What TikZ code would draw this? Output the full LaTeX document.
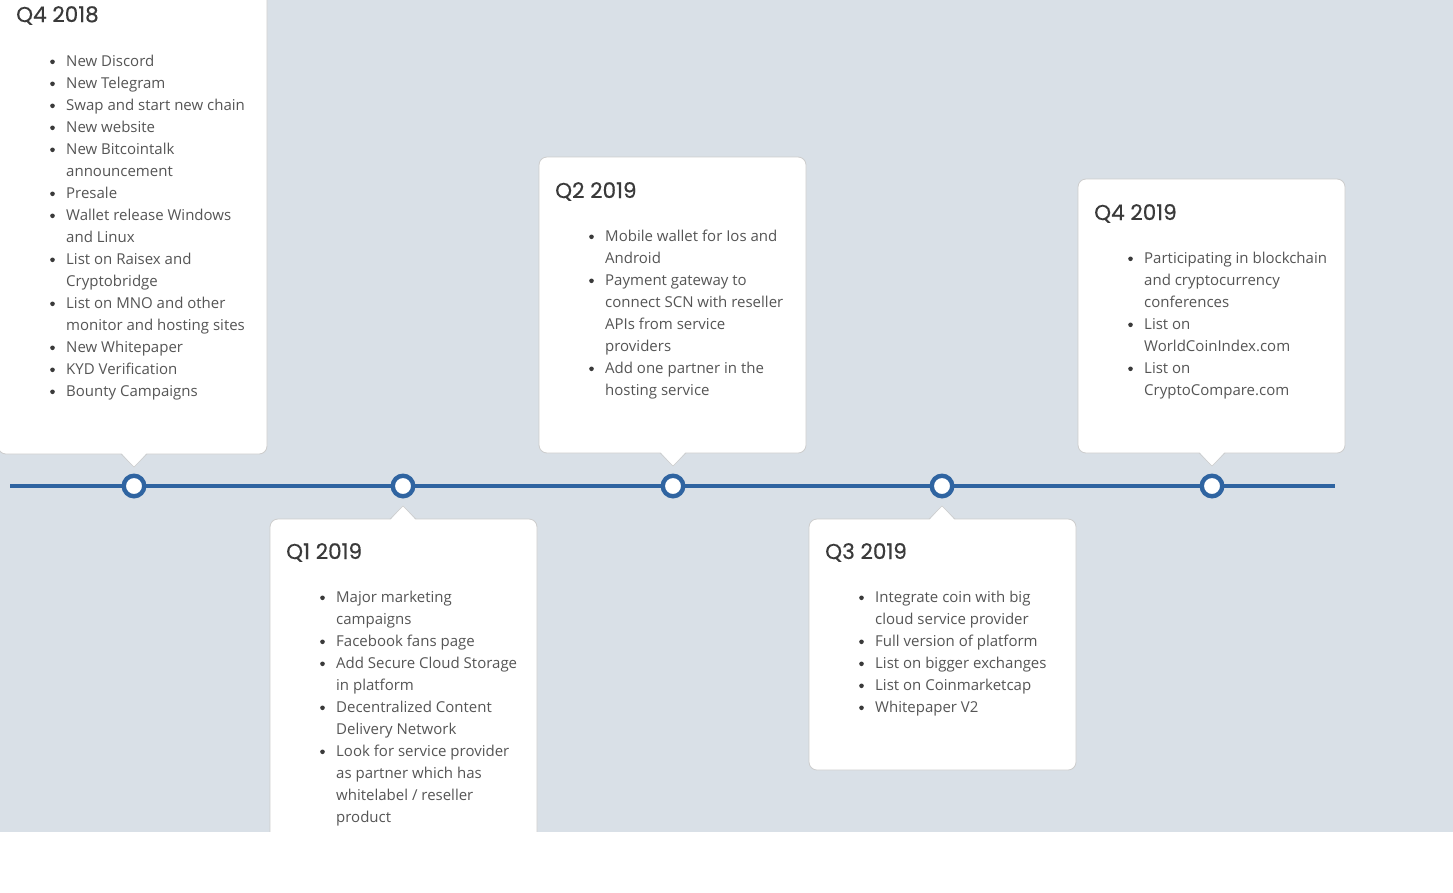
\documentclass[tikz,border=0pt]{standalone}
\usepackage{fontspec}
\setmainfont{Open Sans}
\newfontfamily\titlefont[FakeBold=0.5]{Poppins}
\definecolor{bgc}{HTML}{D9E0E7}
\definecolor{linec}{HTML}{2F64A1}
\definecolor{txtc}{HTML}{555555}
\definecolor{ttlc}{HTML}{3A3A3A}
\definecolor{bordc}{HTML}{CDCDCD}
\tikzset{
  cardbox/.style={fill=white, draw=bordc, line width=0.8pt, rounded corners=8pt},
  tline/.style={draw=linec, line width=4.6pt},
  dot/.style={circle, draw=linec, fill=white, line width=4.4pt, minimum size=20.5pt, inner sep=0pt},
  txt/.style={text=txtc, font=\fontsize{15}{22}\selectfont, inner sep=0pt, anchor=base west},
  ttl/.style={text=ttlc, font=\titlefont\fontsize{21.5}{22}\selectfont, inner sep=0pt, anchor=base west},
  bul/.style={circle, fill=ttlc, inner sep=0pt, minimum size=4.6pt},
}
% #1 name, #2 left x, #3 first line center y, #4 list of flag/text
\newcommand\cardtext[4]{%
  \foreach \b/\t [count=\i] in {#4} {
    \pgfmathsetmacro\yy{#3+(\i-1)*22}
    \node[txt] (#1l\i) at (#2+66, \yy+6.2) {\t};
    \ifnum\b=1 \node[bul] (#1b\i) at (#2+52.5, \yy+1.8) {};\fi
  }%
}
\newcommand\ptrdown[3]{% name, x, bottom y
  \fill[white] (#2-13,#3-1.5) -- (#2,#3+13) -- (#2+13,#3-1.5) -- cycle;
  \draw[draw=bordc, line width=0.6pt] (#2-13,#3) -- (#2,#3+13) -- (#2+13,#3);
  \coordinate (#1) at (#2,#3+13);
}
\newcommand\ptrup[3]{% name, x, top y
  \fill[white] (#2-13,#3+1.5) -- (#2,#3-13) -- (#2+13,#3+1.5) -- cycle;
  \draw[draw=bordc, line width=0.6pt] (#2-13,#3) -- (#2,#3-13) -- (#2+13,#3);
  \coordinate (#1) at (#2,#3-13);
}
\begin{document}
\begin{tikzpicture}[x=1pt, y=-1pt]
\useasboundingbox (0,0) rectangle (1453,892);
\fill[bgc] (0,0) rectangle (1453,832);

% cards
\draw[cardbox] (-2,-30) rectangle (267,454);
\ptrdown{p1}{134}{454}
\draw[cardbox] (270,519) rectangle (537,860);
\ptrup{p2}{403}{519}
\draw[cardbox] (539,157) rectangle (806,453);
\ptrdown{p3}{673}{453}
\draw[cardbox] (809,519) rectangle (1076,770);
\ptrup{p4}{942}{519}
\draw[cardbox] (1078,179) rectangle (1345,453);
\ptrdown{p5}{1212}{453}

\fill[white] (0,832) rectangle (1453,892);

% timeline
\coordinate (ts) at (10,486);
\coordinate (te) at (1335,486);
\draw[tline] (ts) -- (te);
\node[dot] (d1) at (134,486) {};
\node[dot] (d2) at (403,486) {};
\node[dot] (d3) at (673,486) {};
\node[dot] (d4) at (942,486) {};
\node[dot] (d5) at (1212,486) {};

% titles
\node[ttl] (t1) at (16,22) {Q4 2018};
\node[ttl] (t2) at (286,559) {Q1 2019};
\node[ttl] (t3) at (555,198) {Q2 2019};
\node[ttl] (t4) at (825,559) {Q3 2019};
\node[ttl] (t5) at (1094,220) {Q4 2019};

% texts
\cardtext{a}{0}{60}{1/New Discord,1/New Telegram,1/Swap and start new chain,1/New website,1/New Bitcointalk,0/announcement,1/Presale,1/Wallet release Windows,0/and Linux,1/List on Raisex and,0/Cryptobridge,1/List on MNO and other,0/monitor and hosting sites,1/New Whitepaper,1/KYD Verification,1/Bounty Campaigns}
\cardtext{b}{270}{596}{1/Major marketing,0/campaigns,1/Facebook fans page,1/Add Secure Cloud Storage,0/in platform,1/Decentralized Content,0/Delivery Network,1/Look for service provider,0/as partner which has,0/{whitelabel / reseller},0/product}
\cardtext{c}{539}{235}{1/Mobile wallet for Ios and,0/Android,1/Payment gateway to,0/connect SCN with reseller,0/APIs from service,0/providers,1/Add one partner in the,0/hosting service}
\cardtext{d}{809}{596}{1/Integrate coin with big,0/cloud service provider,1/Full version of platform,1/List on bigger exchanges,1/List on Coinmarketcap,1/Whitepaper V2}
\cardtext{e}{1078}{257}{1/Participating in blockchain,0/and cryptocurrency,0/conferences,1/List on,0/WorldCoinIndex.com,1/List on,0/CryptoCompare.com}
\end{tikzpicture}
\end{document}
